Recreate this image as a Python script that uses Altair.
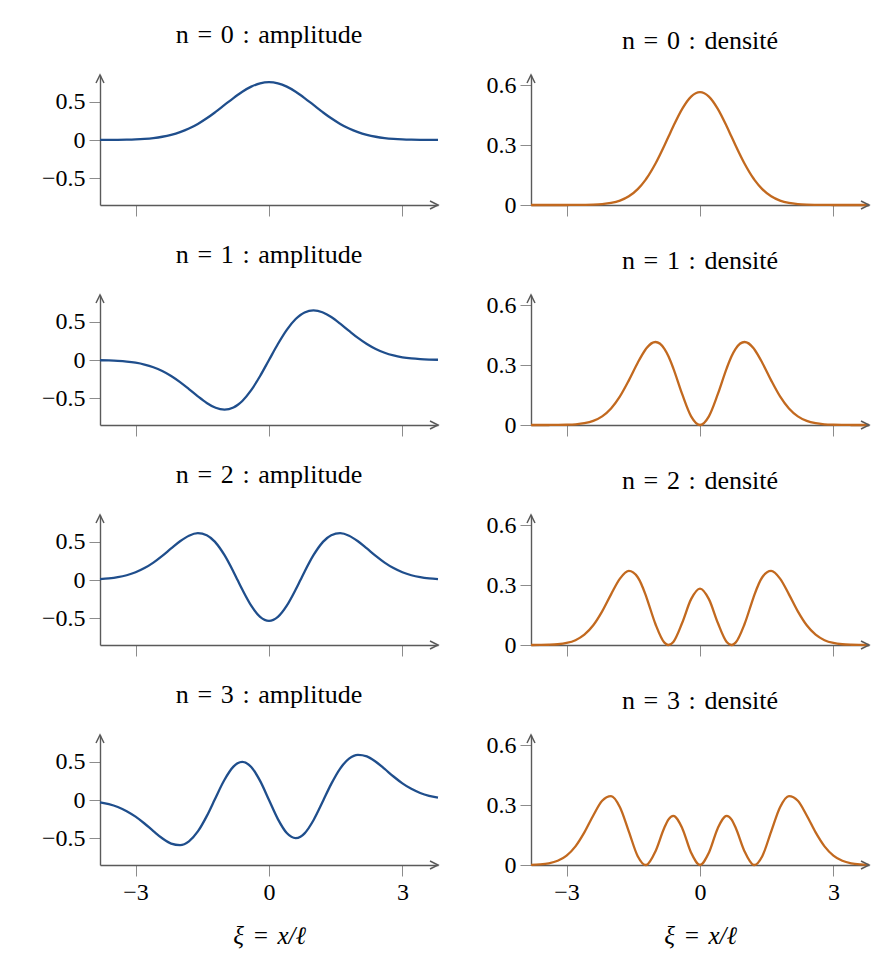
import altair as alt
import pandas as pd

# positions along the axis (xi = x / l)
XI = [-3.8, -3.6, -3.4, -3.2, -3.0, -2.8, -2.6, -2.4, -2.2, -2.0, -1.8, -1.6, -1.4, -1.225, -1.2,
      -1.0, -0.8, -0.707, -0.6, -0.4, -0.2, 0.0, 0.2, 0.4, 0.6, 0.707, 0.8, 1.0, 1.2, 1.225, 1.4,
      1.6, 1.8, 2.0, 2.2, 2.4, 2.6, 2.8, 3.0, 3.2, 3.4, 3.6, 3.8]

# amplitudes
PSI0 = [0.0005, 0.0012, 0.0023, 0.0045, 0.0083, 0.0149, 0.0256, 0.0422, 0.0668, 0.1017, 0.1486,
        0.2088, 0.2819, 0.3548, 0.3656, 0.4556, 0.5454, 0.5850, 0.6274, 0.6934, 0.7363, 0.7511,
        0.7363, 0.6934, 0.6274, 0.5850, 0.5454, 0.4556, 0.3656, 0.3548, 0.2819, 0.2088, 0.1486,
        0.1017, 0.0668, 0.0422, 0.0256, 0.0149, 0.0083, 0.0045, 0.0023, 0.0012, 0.0005]
PSI1 = [-0.0030, -0.0059, -0.0112, -0.0203, -0.0354, -0.0590, -0.0940, -0.1431, -0.2078, -0.2875,
        -0.3784, -0.4726, -0.5581, -0.6145, -0.6205, -0.6443, -0.6171, -0.5850, -0.5324, -0.3922,
        -0.2082, 0.0, 0.2082, 0.3922, 0.5324, 0.5850, 0.6171, 0.6443, 0.6205, 0.6145, 0.5581,
        0.4726, 0.3784, 0.2875, 0.2078, 0.1431, 0.0940, 0.0590, 0.0354, 0.0203, 0.0112, 0.0059,
        0.0030]
PSI2 = [0.0108, 0.0203, 0.0363, 0.0618, 0.1003, 0.1547, 0.2264, 0.3136, 0.4099, 0.5032, 0.5760,
        0.6084, 0.5821, 0.5018, 0.4860, 0.3221, 0.1080, 0.0, -0.1242, -0.3334, -0.4790, -0.5311,
        -0.4790, -0.3334, -0.1242, 0.0, 0.1080, 0.3221, 0.4860, 0.5018, 0.5821, 0.6084, 0.5760,
        0.5032, 0.4099, 0.3136, 0.2264, 0.1547, 0.1003, 0.0618, 0.0363, 0.0203, 0.0108]
PSI3 = [-0.0312, -0.0549, -0.0916, -0.1450, -0.2168, -0.3055, -0.4039, -0.4978, -0.5667, -0.5869,
        -0.5376, -0.4090, -0.2096, 0.0, 0.0304, 0.2630, 0.4333, 0.4777, 0.4955, 0.4292, 0.2483,
        0.0, -0.2483, -0.4292, -0.4955, -0.4777, -0.4333, -0.2630, -0.0304, 0.0, 0.2096, 0.4090,
        0.5376, 0.5869, 0.5667, 0.4978, 0.4039, 0.3055, 0.2168, 0.1450, 0.0916, 0.0549, 0.0312]

# densities
RHO0 = [0.0, 0.0, 0.0, 0.0, 0.0001, 0.0002, 0.0007, 0.0018, 0.0045, 0.0103, 0.0221, 0.0436, 0.0795,
        0.1259, 0.1337, 0.2076, 0.2975, 0.3422, 0.3936, 0.4808, 0.5421, 0.5642, 0.5421, 0.4808,
        0.3936, 0.3422, 0.2975, 0.2076, 0.1337, 0.1259, 0.0795, 0.0436, 0.0221, 0.0103, 0.0045,
        0.0018, 0.0007, 0.0002, 0.0001, 0.0, 0.0, 0.0, 0.0]
RHO1 = [0.0, 0.0, 0.0001, 0.0004, 0.0013, 0.0035, 0.0088, 0.0205, 0.0432, 0.0827, 0.1432, 0.2233,
        0.3115, 0.3776, 0.3850, 0.4151, 0.3808, 0.3422, 0.2834, 0.1539, 0.0434, 0.0, 0.0434,
        0.1539, 0.2834, 0.3422, 0.3808, 0.4151, 0.3850, 0.3776, 0.3115, 0.2233, 0.1432, 0.0827,
        0.0432, 0.0205, 0.0088, 0.0035, 0.0013, 0.0004, 0.0001, 0.0, 0.0]
RHO2 = [0.0001, 0.0004, 0.0013, 0.0038, 0.0101, 0.0239, 0.0513, 0.0984, 0.1680, 0.2532, 0.3318,
        0.3702, 0.3388, 0.2518, 0.2362, 0.1038, 0.0117, 0.0, 0.0154, 0.1112, 0.2294, 0.2821,
        0.2294, 0.1112, 0.0154, 0.0, 0.0117, 0.1038, 0.2362, 0.2518, 0.3388, 0.3702, 0.3318,
        0.2532, 0.1680, 0.0984, 0.0513, 0.0239, 0.0101, 0.0038, 0.0013, 0.0004, 0.0001]
RHO3 = [0.0010, 0.0030, 0.0084, 0.0210, 0.0470, 0.0933, 0.1631, 0.2478, 0.3212, 0.3445, 0.2890,
        0.1673, 0.0440, 0.0, 0.0009, 0.0692, 0.1878, 0.2282, 0.2456, 0.1842, 0.0616, 0.0, 0.0616,
        0.1842, 0.2456, 0.2282, 0.1878, 0.0692, 0.0009, 0.0, 0.0440, 0.1673, 0.2890, 0.3445,
        0.3212, 0.2478, 0.1631, 0.0933, 0.0470, 0.0210, 0.0084, 0.0030, 0.0010]

AMPLITUDES = [PSI0, PSI1, PSI2, PSI3]
DENSITIES = [RHO0, RHO1, RHO2, RHO3]

X_DOMAIN = [-3.8, 3.8]
X_TICKS = [-3, 0, 3]
AMP_DOMAIN = [-0.845, 0.845]
AMP_TICKS = [-0.5, 0, 0.5]
DENS_DOMAIN = [0, 0.65]
DENS_TICKS = [0, 0.3, 0.6]

BLUE = "#1f4e8c"
ORANGE = "#c2691f"
AXIS_GREY = "#5a5a5a"
FONT = "Liberation Serif"
SP = "\u2004"  # a slightly wider space, closer to the math spacing of the original

ARROW_UP = "M -0.5 1 L 0 0 L 0.5 1"
ARROW_RIGHT = "M -1 -0.5 L 0 0 L -1 0.5"


def panel(values, title, color, y_domain, y_ticks, bottom, title_offset):
    """One small plot: a curve plus the two arrow heads at the axis ends."""
    x_axis = alt.Axis(values=X_TICKS, labels=bottom, format="~g",
                      title=f"ξ{SP}={SP}x/ℓ" if bottom else None)
    x = alt.X("xi:Q", scale=alt.Scale(domain=X_DOMAIN, nice=False, zero=False), axis=x_axis)
    y = alt.Y("v:Q", scale=alt.Scale(domain=y_domain, nice=False, zero=False),
              axis=alt.Axis(values=y_ticks, format="~g", title=None))

    line = alt.Chart(pd.DataFrame({"xi": XI, "v": values})).mark_line(
        color=color, strokeWidth=2.3, interpolate="monotone"
    ).encode(x=x, y=y)

    up = alt.Chart(pd.DataFrame({"xi": [X_DOMAIN[0]], "v": [y_domain[1]]})).mark_point(
        shape=ARROW_UP, filled=False, size=256, strokeWidth=1.5, color=AXIS_GREY, opacity=1
    ).encode(x="xi:Q", y="v:Q")
    right = alt.Chart(pd.DataFrame({"xi": [X_DOMAIN[1]], "v": [y_domain[0]]})).mark_point(
        shape=ARROW_RIGHT, filled=False, size=256, strokeWidth=1.5, color=AXIS_GREY, opacity=1
    ).encode(x="xi:Q", y="v:Q")

    return alt.layer(line, up, right).properties(
        width=338,
        height=130,
        title=alt.TitleParams(text=title, font=FONT, fontSize=26, fontWeight="normal",
                              color="black", offset=title_offset),
    )


panels = []
for n in range(4):
    last = n == 3
    panels.append(panel(AMPLITUDES[n], f"n{SP}={SP}{n}{SP}:{SP}amplitude", BLUE,
                        AMP_DOMAIN, AMP_TICKS, last, 24))
    panels.append(panel(DENSITIES[n], f"n{SP}={SP}{n}{SP}:{SP}densité", ORANGE,
                        DENS_DOMAIN, DENS_TICKS, last, 18))

chart = (
    alt.concat(*panels, columns=2, spacing={"row": 90, "column": 93}, bounds="flush")
    .properties(padding={"left": 33, "top": 14, "right": 5, "bottom": 5})
    .configure_view(stroke=None)
    .configure_axis(
        grid=False,
        domainColor=AXIS_GREY,
        domainWidth=1.4,
        tickColor="#8c8c8c",
        tickWidth=1,
        tickSize=11,
        labelFont=FONT,
        labelFontSize=24,
        labelColor="black",
        labelPadding=4,
        titleFont=FONT,
        titleFontSize=25,
        titleFontStyle="italic",
        titleFontWeight="normal",
        titleColor="black",
        titlePadding=19,
    )
)

chart.save("out.html", embed_options={"renderer": "svg", "actions": False})
